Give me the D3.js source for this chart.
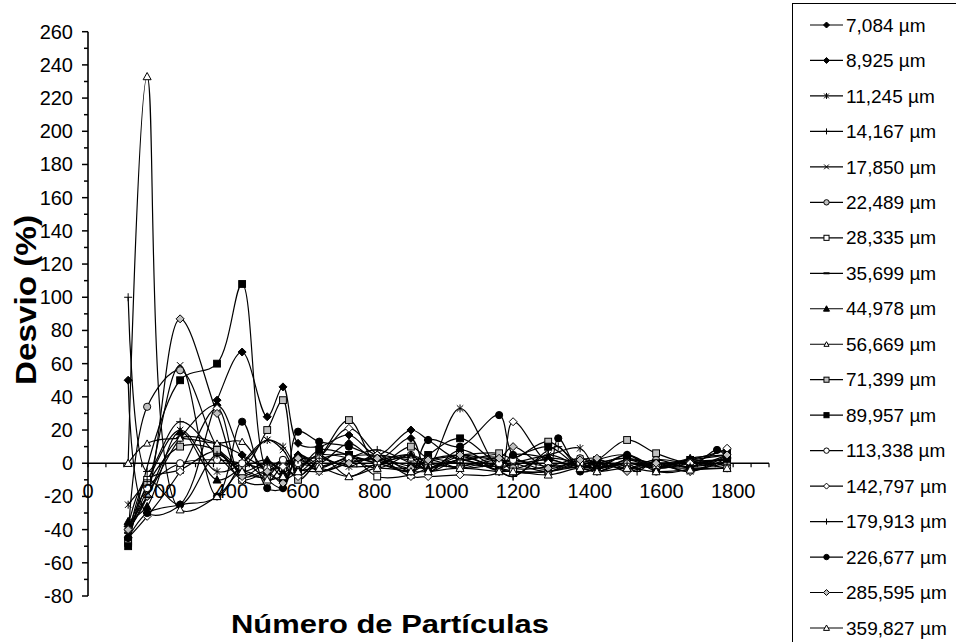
<!DOCTYPE html>
<html>
<head>
<meta charset="utf-8">
<script src="https://cdn.jsdelivr.net/npm/d3@7"></script>
<style>
  html, body { margin: 0; padding: 0; background: #fff; }
  svg { display: block; font-family: Arial, "Liberation Sans", sans-serif; }
</style>
</head>
<body>
<svg id="chart" width="956" height="642"></svg>
<script>
// ---------- data ----------
const seriesNames = ["7,084 µm","8,925 µm","11,245 µm","14,167 µm","17,850 µm","22,489 µm","28,335 µm","35,699 µm","44,978 µm","56,669 µm","71,399 µm","89,957 µm","113,338 µm","142,797 µm","179,913 µm","226,677 µm","285,595 µm","359,827 µm"];
const seriesMarkers = ["diamondFill","diamondFill","asterisk","plus","cross","circleGray","squareOpen","dash","triangleFill","triangleOpenSmall","squareGray","squareFill","circleOpen","diamondOpen","plus","circleFill","diamondGray","triangleOpen"];

const x_7084   = [112,165,257,360,430,500,544,586,645,728,807,901,949,1038,1147,1186,1284,1373,1420,1504,1585,1680,1783];
const y_7084   = [50,-30,-25,38,67,28,46,12,10,17,5,20,14,2,5,-3,3,0,-3,5,-2,2,8];
const x_8925   = [112,165,257,360,430,500,544,586,645,728,807,901,949,1038,1147,1284,1420,1504,1585,1680,1783];
const y_8925   = [-38,-20,15,35,5,-10,-15,5,0,12,2,15,-5,8,-3,-5,2,-3,0,-2,5];
const x_11245  = [112,165,257,360,430,500,544,586,645,728,807,901,949,1038,1147,1186,1284,1373,1420,1504,1585,1680,1783];
const y_11245  = [-25,-10,20,-5,0,14,10,-3,-5,0,3,-2,-2,33,-3,0,5,9,-3,2,0,-5,3];
const x_14167  = [112,165,257,360,430,500,544,586,645,728,807,901,949,1038,1147,1186,1284,1312,1373,1420,1504,1532,1585,1680,1783];
const y_14167  = [100,-5,25,5,-8,0,-3,5,-5,3,8,0,-3,5,-5,-8,8,10,-3,0,-2,-5,2,0,3];
const x_17850  = [112,165,257,360,430,500,544,586,645,728,807,901,949,1038,1147,1284,1373,1420,1504,1585,1680,1783];
const y_17850  = [-40,-15,59,-20,0,14,8,-5,3,-2,5,-5,0,-3,2,-5,3,-2,0,-3,2,-2];
const x_22489  = [112,165,257,360,430,500,544,586,645,728,807,901,949,1038,1147,1186,1284,1373,1420,1504,1585,1680,1783];
const y_22489  = [-45,34,56,10,-5,-8,2,-2,5,3,-3,5,0,-2,3,-3,-2,3,0,-3,2,-3,0];
const x_28335  = [112,165,257,360,430,500,544,586,645,728,807,901,949,1038,1147,1186,1284,1373,1420,1504,1585,1680,1783];
const y_28335  = [-47,-10,-4,7,-10,-5,-3,-8,2,5,-8,-7,-3,2,3,-5,-5,-2,-3,0,-2,-3,-3];
const x_35699  = [112,165,257,360,430,500,544,586,645,728,807,901,949,1038,1147,1284,1373,1420,1504,1585,1680,1783];
const y_35699  = [-42,-20,15,12,5,-3,-2,2,-3,4,5,2,3,0,-2,2,-2,0,3,-2,1,2];
const x_44978  = [112,165,257,360,430,500,544,586,645,728,807,901,949,1038,1147,1186,1284,1373,1420,1504,1585,1680,1783];
const y_44978  = [-35,-26,19,-10,-3,2,-5,5,-2,3,2,5,-3,4,-2,5,3,-3,2,5,-2,3,5];
const x_56669  = [112,165,257,360,430,500,544,586,645,728,807,901,949,1038,1147,1284,1373,1420,1504,1585,1680,1783];
const y_56669  = [0,12,15,12,13,-5,2,-3,5,-8,0,3,-5,2,-4,-5,0,-5,2,-3,0,2];
const x_71399  = [112,165,257,360,430,500,544,586,645,728,807,901,949,1038,1147,1186,1284,1373,1420,1504,1585,1680,1783];
const y_71399  = [-48,-13,10,8,-2,20,38,-10,3,26,0,10,3,5,6,3,13,0,2,14,6,0,3];
const x_89957  = [112,257,360,430,500,544,586,645,728,807,901,949,1038,1147,1186,1284,1373,1420,1504,1585,1680,1783];
const y_89957  = [-50,50,60,108,-5,-10,-5,8,5,0,-3,5,15,0,3,10,-2,0,3,0,2,5];
const x_113338 = [112,165,257,360,430,500,544,586,645,728,807,901,949,1038,1147,1186,1284,1373,1420,1504,1585,1680,1783];
const y_113338 = [-40,-15,0,2,0,-3,2,0,-2,3,0,-5,2,-3,0,2,-2,0,-3,0,-2,0,-3];
const x_142797 = [112,165,257,360,430,500,544,586,645,728,807,901,949,1038,1147,1186,1284,1373,1420,1504,1585,1680,1783];
const y_142797 = [-45,-32,-5,33,-10,-12,-2,-8,3,21,5,-8,-8,-7,-5,25,0,-3,-5,0,-3,0,9];
const x_179913 = [112,165,257,360,430,500,544,586,645,728,807,901,949,1038,1147,1186,1284,1373,1420,1504,1532,1585,1680,1783];
const y_179913 = [-38,-10,-25,5,-5,0,-8,2,3,-2,-1,5,-3,2,-5,-8,5,-2,-3,0,-3,0,-2,1];
const x_226677 = [112,165,257,360,430,500,544,586,645,728,807,901,949,1038,1147,1186,1284,1312,1373,1420,1504,1585,1680,1755,1783];
const y_226677 = [-45,-30,-25,-20,25,-15,-15,19,13,10,3,-5,14,10,29,5,-3,15,-5,-3,5,-5,-3,8,3];
const x_285595 = [112,165,257,360,430,500,544,586,645,728,807,901,949,1038,1147,1186,1284,1373,1420,1504,1585,1680,1783];
const y_285595 = [-40,-20,87,30,-8,-5,-12,3,-5,0,3,-3,2,5,3,10,-3,2,3,-5,0,-5,5];
const x_359827 = [112,165,257,360,430,500,544,586,645,728,807,901,949,1038,1147,1186,1284,1373,1420,1504,1585,1680,1783];
const y_359827 = [0,233,-28,-20,-5,-10,-8,-5,-3,-8,-3,-5,-5,-3,-5,-5,-7,-3,-5,-3,-5,-4,-3];

const xTicks = [0,200,400,600,800,1000,1200,1400,1600,1800];
const yTicks = [-80,-60,-40,-20,0,20,40,60,80,100,120,140,160,180,200,220,240,260];

const seriesX = [x_7084,x_8925,x_11245,x_14167,x_17850,x_22489,x_28335,x_35699,x_44978,x_56669,x_71399,x_89957,x_113338,x_142797,x_179913,x_226677,x_285595,x_359827];
const seriesY = [y_7084,y_8925,y_11245,y_14167,y_17850,y_22489,y_28335,y_35699,y_44978,y_56669,y_71399,y_89957,y_113338,y_142797,y_179913,y_226677,y_285595,y_359827];
const series = seriesNames.map((name, i) => ({
  name, marker: seriesMarkers[i],
  points: seriesX[i].map((x, j) => ({x, y: seriesY[i][j]}))
}));

// ---------- layout ----------
const svg = d3.select("#chart");
const x = d3.scaleLinear().domain([0, 1900]).range([88, 769]);
const y = d3.scaleLinear().domain([-80, 260]).range([596, 31.7]);
const GRAY = "#c0c0c0";

function drawMarker(g, type, s) {
  const h = s / 2;
  const st = {stroke: "#000", "stroke-width": 1};
  const add = (tag, attrs) => { const e = g.append(tag); Object.entries(Object.assign({}, st, attrs)).forEach(([k, v]) => e.attr(k, v)); return e; };
  switch (type) {
    case "diamondFill": add("path", {d: `M0,${-h}L${h},0L0,${h}L${-h},0Z`, fill: "#000"}); break;
    case "diamondOpen": add("path", {d: `M0,${-h}L${h},0L0,${h}L${-h},0Z`, fill: "#fff"}); break;
    case "diamondGray": add("path", {d: `M0,${-h}L${h},0L0,${h}L${-h},0Z`, fill: GRAY}); break;
    case "squareFill": add("rect", {x: -h*0.85, y: -h*0.85, width: s*0.85, height: s*0.85, fill: "#000"}); break;
    case "squareOpen": add("rect", {x: -h*0.85, y: -h*0.85, width: s*0.85, height: s*0.85, fill: "#fff"}); break;
    case "squareGray": add("rect", {x: -h*0.85, y: -h*0.85, width: s*0.85, height: s*0.85, fill: GRAY}); break;
    case "circleFill": add("circle", {r: h*0.9, fill: "#000"}); break;
    case "circleOpen": add("circle", {r: h*0.9, fill: "#fff"}); break;
    case "circleGray": add("circle", {r: h*0.9, fill: GRAY}); break;
    case "triangleFill": add("path", {d: `M0,${-h}L${h},${h*0.8}L${-h},${h*0.8}Z`, fill: "#000"}); break;
    case "triangleOpen": add("path", {d: `M0,${-h}L${h},${h*0.8}L${-h},${h*0.8}Z`, fill: "#fff"}); break;
    case "triangleOpenSmall": add("path", {d: `M0,${-h*0.85}L${h*0.85},${h*0.7}L${-h*0.85},${h*0.7}Z`, fill: "#fff"}); break;
    case "plus": add("path", {d: `M${-h},0H${h}M0,${-h}V${h}`, fill: "none"}); break;
    case "cross": add("path", {d: `M${-h*0.8},${-h*0.8}L${h*0.8},${h*0.8}M${-h*0.8},${h*0.8}L${h*0.8},${-h*0.8}`, fill: "none"}); break;
    case "asterisk": add("path", {d: `M${-h*0.8},${-h*0.8}L${h*0.8},${h*0.8}M${-h*0.8},${h*0.8}L${h*0.8},${-h*0.8}M0,${-h}V${h}`, fill: "none"}); break;
    case "dash": add("path", {d: `M${-h},0H${h}`, fill: "none", "stroke-width": 2}); break;
  }
}

// ---------- axes ----------
const yAxisG = svg.append("g");
yAxisG.append("line").attr("x1", 88).attr("x2", 88).attr("y1", y(260)).attr("y2", y(-80))
  .attr("stroke", "#333").attr("stroke-width", 2);
d3.range(-80, 261, 10).forEach(v => {
  const major = v % 20 === 0;
  yAxisG.append("line").attr("x1", major ? 82 : 84).attr("x2", 88)
    .attr("y1", y(v)).attr("y2", y(v)).attr("stroke", "#000").attr("stroke-width", 1.5);
});
yAxisG.selectAll("text.ytick").data(yTicks).enter().append("text")
  .attr("class", "ytick").attr("x", 73).attr("y", d => y(d)).attr("dy", "0.35em")
  .attr("text-anchor", "end").attr("font-size", 20).text(d => d);

const xAxisG = svg.append("g");
xAxisG.append("line").attr("x1", x(0)).attr("x2", x(1900)).attr("y1", y(0)).attr("y2", y(0))
  .attr("stroke", "#000").attr("stroke-width", 1.5);
d3.range(0, 1901, 50).forEach(v => {
  xAxisG.append("line").attr("x1", x(v)).attr("x2", x(v)).attr("y1", y(0)).attr("y2", y(0) + 4)
    .attr("stroke", "#000").attr("stroke-width", 1.2);
});

// ---------- series ----------
const line = d3.line().x(d => x(d.x)).y(d => y(d.y)).curve(d3.curveCatmullRom.alpha(0.5));
const plotG = svg.append("g");
series.forEach(s => {
  plotG.append("path").attr("d", line(s.points)).attr("fill", "none")
    .attr("stroke", "#000").attr("stroke-width", 1.2);
});
series.forEach(s => {
  s.points.forEach(p => {
    const g = plotG.append("g").attr("transform", `translate(${x(p.x)},${y(p.y)})`);
    drawMarker(g, s.marker, 8);
  });
});

svg.append("g").selectAll("text").data(xTicks).enter().append("text")
  .attr("x", d => x(d)).attr("y", 498).attr("text-anchor", "middle")
  .attr("font-size", 20).text(d => d);

// ---------- titles ----------
svg.append("text").attr("x", 390).attr("y", 633).attr("text-anchor", "middle")
  .attr("font-size", 26).attr("font-weight", "bold")
  .attr("textLength", 318).attr("lengthAdjust", "spacingAndGlyphs").text("Número de Partículas");
svg.append("text").attr("transform", "translate(36,300) rotate(-90)").attr("text-anchor", "middle")
  .attr("font-size", 29).attr("font-weight", "bold")
  .attr("textLength", 170).attr("lengthAdjust", "spacingAndGlyphs").text("Desvio (%)");

// ---------- legend ----------
const leg = svg.append("g");
leg.append("rect").attr("x", 792.5).attr("y", 3.5).attr("width", 200).attr("height", 700)
  .attr("fill", "#fff").attr("stroke", "#000").attr("stroke-width", 1);
series.forEach((s, i) => {
  const yy = 25 + i * 35.47;
  const g = leg.append("g");
  g.append("line").attr("x1", 810).attr("x2", 843).attr("y1", yy).attr("y2", yy)
    .attr("stroke", "#000").attr("stroke-width", 1.2);
  const m = g.append("g").attr("transform", `translate(826.5,${yy})`);
  drawMarker(m, s.marker, 6);
  g.append("text").attr("x", 846).attr("y", yy).attr("dy", "0.35em")
    .attr("font-size", 19).text(s.name);
});
</script>
</body>
</html>
